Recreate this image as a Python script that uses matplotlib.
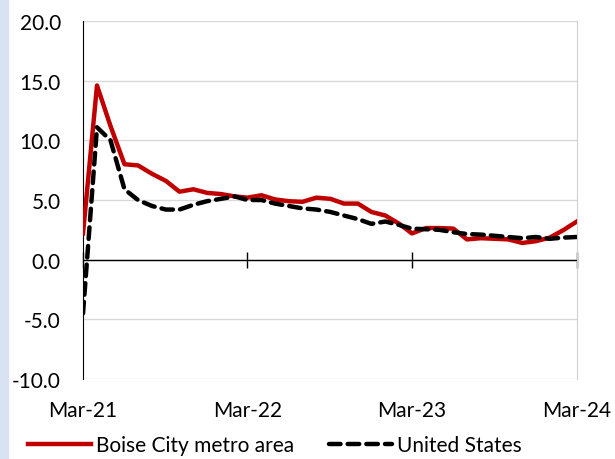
import pandas as pd
import matplotlib.pyplot as plt
import matplotlib.dates as mdates
from matplotlib.patches import Rectangle

plt.rcParams['font.family'] = ['Lato', 'DejaVu Sans']

months = pd.date_range("2021-03-01", "2024-03-01", freq="MS")
boise = [2.2, 14.6, 11.2, 8.0, 7.9, 7.2, 6.6, 5.7, 5.9, 5.6, 5.5, 5.3,
         5.2, 5.4, 5.05, 4.9, 4.85, 5.2, 5.1, 4.7, 4.7, 4.0, 3.7, 3.0,
         2.2, 2.65, 2.65, 2.6, 1.7, 1.8, 1.75, 1.7, 1.4, 1.55, 1.85, 2.5, 3.2]
us = [-4.5, 11.1, 10.0, 5.9, 5.0, 4.5, 4.2, 4.2, 4.6, 4.9, 5.1, 5.3,
      5.0, 5.0, 4.7, 4.5, 4.3, 4.2, 4.0, 3.7, 3.4, 3.0, 3.2, 2.9,
      2.6, 2.55, 2.5, 2.3, 2.15, 2.1, 2.0, 1.9, 1.8, 1.9, 1.75, 1.85, 1.9]
tick_dates = pd.to_datetime(["2021-03-01", "2022-03-01", "2023-03-01", "2024-03-01"])
yticks = [-10, -5, 0, 5, 10, 15, 20]

fig = plt.figure(figsize=(6.15, 4.6), dpi=100)
fig.patches.append(Rectangle((0, 0), 8 / 615, 1, transform=fig.transFigure,
                             color="#d9e2f3", zorder=0))
ax = fig.add_axes([0.135, 0.174, 0.803, 0.778])

ax.plot(months, boise, color="#c00000", lw=3.2, label="Boise City metro area", zorder=3)
ax.plot(months, us, color="black", lw=3.2, dashes=(2.6, 1.6), dash_capstyle="round",
        label="United States", zorder=4)

ax.set_ylim(-10, 20)
ax.set_xlim(months[0], months[-1])
ax.set_yticks(yticks)
ax.set_yticklabels([f"{v:.1f}" for v in yticks])
ax.tick_params(axis="y", length=0, labelsize=15, pad=16)
ax.grid(axis="y", color="#d9d9d9", lw=1)
ax.set_axisbelow(True)

for s in ["top", "bottom"]:
    ax.spines[s].set_visible(False)
ax.spines["left"].set_color("black")
ax.spines["right"].set_color("#d0d0d0")

# zero line with yearly ticks
ax.axhline(0, color="black", lw=1, zorder=2)
ax.set_xticks(tick_dates)
ax.xaxis.set_ticks_position("none")
ax.set_xticklabels([])
sec = ax.secondary_xaxis(1 / 3)
sec.set_xticks(tick_dates)
sec.set_xticklabels([])
sec.tick_params(direction="inout", length=12, width=1)
sec.spines["bottom"].set_visible(False)

lab = ax.secondary_xaxis("bottom")
lab.set_xticks(tick_dates)
lab.xaxis.set_major_formatter(mdates.DateFormatter("%b-%y"))
lab.tick_params(length=0, labelsize=15, pad=15)
lab.spines["bottom"].set_visible(False)

fig.legend(loc="center", bbox_to_anchor=(0.447, 0.03), ncol=2, frameon=False,
           fontsize=15, handlelength=3.0, columnspacing=1.7, handletextpad=0.25)

fig.savefig("out.png", dpi=100)
